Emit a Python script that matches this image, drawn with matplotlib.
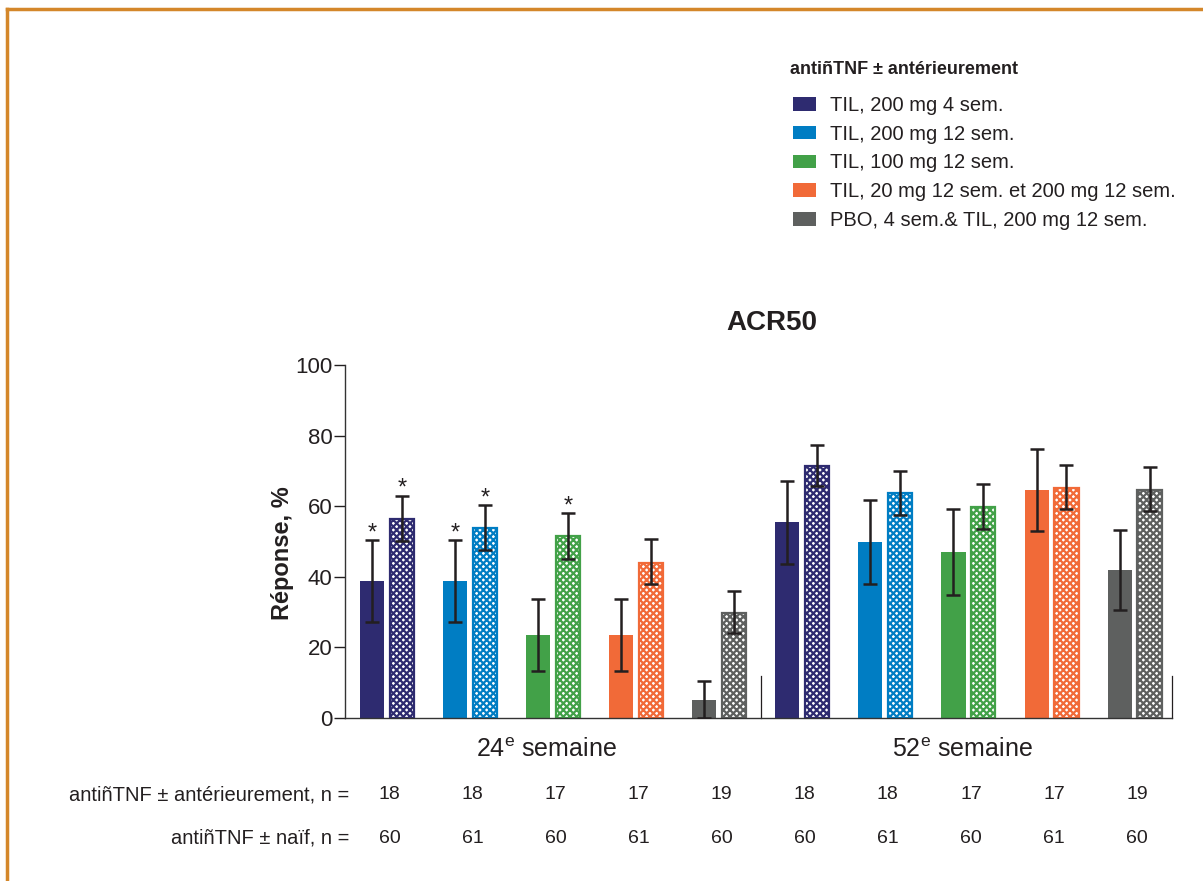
import numpy as np
import matplotlib
matplotlib.use('Agg')
import matplotlib.pyplot as plt
from matplotlib.patches import Patch
from matplotlib.lines import Line2D

plt.rcParams['font.family'] = ['Liberation Sans', 'DejaVu Sans']
plt.rcParams['mathtext.fontset'] = 'custom'
plt.rcParams['mathtext.rm'] = 'Liberation Sans'
plt.rcParams['hatch.linewidth'] = 1.6

groups = ['TIL, 200 mg 4 sem.', 'TIL, 200 mg 12 sem.', 'TIL, 100 mg 12 sem.',
          'TIL, 20 mg 12 sem. et 200 mg 12 sem.', 'PBO, 4 sem.& TIL, 200 mg 12 sem.']
colors = ['#2E2B70', '#007DC3', '#42A148', '#F16A38', '#5E605F']
weeks = ['24$^{\\mathrm{e}}$ semaine', '52$^{\\mathrm{e}}$ semaine']

# anti-TNF previously exposed (solid bars) - week 24 then week 52
prior_val = [38.9, 38.9, 23.5, 23.5, 5.0, 55.5, 50.0, 47.0, 64.7, 41.9]
prior_lo = [27.3, 27.3, 13.3, 13.3, 0.0, 43.7, 38.0, 34.8, 53.0, 30.7]
prior_hi = [50.4, 50.4, 33.7, 33.7, 10.4, 67.1, 61.7, 59.1, 76.1, 53.3]
prior_star = [True, True, False, False, False, False, False, False, False, False]

# anti-TNF naive (checkered bars)
naive_val = [56.5, 53.8, 51.5, 44.0, 29.8, 71.5, 63.6, 59.7, 65.2, 64.7]
naive_lo = [50.1, 47.6, 45.1, 37.9, 24.0, 65.7, 57.6, 53.5, 59.3, 58.6]
naive_hi = [62.9, 60.2, 58.0, 50.6, 35.9, 77.3, 69.9, 66.3, 71.6, 71.0]
naive_star = [True, True, True, False, False, False, False, False, False, False]

n_prior = [18, 18, 17, 17, 19, 18, 18, 17, 17, 19]
n_naive = [60, 61, 60, 61, 60, 60, 61, 60, 61, 60]

fig = plt.figure(figsize=(12.03, 8.81), dpi=100)
ax = fig.add_axes([0.2868, 0.185, 0.6874, 0.4007])

x = np.arange(len(prior_val))
cols = colors * 2
off = 0.18
w = 0.29
ink = '#231F20'

ax.bar(x - off, prior_val, width=w, color=cols, edgecolor='none', zorder=2)
ax.bar(x + off, naive_val, width=w, color='white', edgecolor=cols,
       hatch='xxxxx', linewidth=1.6, zorder=2)

err_p = [np.array(prior_val) - np.array(prior_lo), np.array(prior_hi) - np.array(prior_val)]
err_n = [np.array(naive_val) - np.array(naive_lo), np.array(naive_hi) - np.array(naive_val)]
ax.errorbar(x - off, prior_val, yerr=err_p, fmt='none', ecolor=ink,
            elinewidth=1.8, capsize=5, capthick=1.8, zorder=3)
ax.errorbar(x + off, naive_val, yerr=err_n, fmt='none', ecolor=ink,
            elinewidth=1.8, capsize=5, capthick=1.8, zorder=3)

for i in range(len(x)):
    if prior_star[i]:
        ax.text(x[i] - off, prior_hi[i] + 2.0, '*', ha='center', va='center',
                fontsize=17, color=ink)
    if naive_star[i]:
        ax.text(x[i] + off, naive_hi[i] + 2.0, '*', ha='center', va='center',
                fontsize=17, color=ink)

# separators between weeks
for xs in [4.5, 9.45]:
    ax.plot([xs, xs], [0, 12], color=ink, lw=0.9, zorder=1, clip_on=False)

ax.set_xlim(-0.505, 9.45)
ax.set_ylim(0, 100)
ax.set_yticks([0, 20, 40, 60, 80, 100])
ax.tick_params(axis='y', labelsize=16, length=8, width=1, colors=ink,
               direction='out', pad=1)
ax.set_xticks([])
for s in ['top', 'right']:
    ax.spines[s].set_visible(False)
for s in ['left', 'bottom']:
    ax.spines[s].set_color('#333333')
    ax.spines[s].set_linewidth(1)

ax.set_ylabel('Réponse, %', fontsize=17, fontweight='bold', color=ink)
ax.yaxis.set_label_coords(-0.062, 0.467)
ax.set_title('ACR50', fontsize=20, fontweight='bold', color=ink, pad=25, x=0.516)

tr = ax.get_xaxis_transform()
ax.text(1.92, -0.09, weeks[0], transform=tr, ha='center', va='center', fontsize=18, color=ink)
ax.text(6.93, -0.09, weeks[1], transform=tr, ha='center', va='center', fontsize=18, color=ink)

ax.text(-0.45, -0.218, 'antiñTNF ± antérieurement, n =', transform=tr, ha='right',
        va='center', fontsize=14.5, color=ink)
ax.text(-0.45, -0.340, 'antiñTNF ± naïf, n =', transform=tr, ha='right',
        va='center', fontsize=14.5, color=ink)
for i in range(len(x)):
    ax.text(x[i] + 0.03, -0.218, str(n_prior[i]), transform=tr, ha='center',
            va='center', fontsize=14, color=ink)
    ax.text(x[i] + 0.03, -0.340, str(n_naive[i]), transform=tr, ha='center',
            va='center', fontsize=14, color=ink)

fig.text(790 / 1203, 1 - 70 / 881, 'antiñTNF ± antérieurement', ha='left', va='center',
         fontsize=13, fontweight='bold', color=ink)
handles = [Patch(facecolor=c, edgecolor='none') for c in colors]
leg = fig.legend(handles, groups, loc='upper left', bbox_to_anchor=(0.6525, 0.9005),
                 frameon=False, fontsize=14.5, borderaxespad=0,
                 handlelength=1.12, handleheight=0.67,
                 labelspacing=0.49, handletextpad=0.74)
for t in leg.get_texts():
    t.set_color(ink)

# orange frame (top and left edges)
fc = '#D4872A'
fig.add_artist(Line2D([7 / 1203, 1], [1 - 9 / 881, 1 - 9 / 881], color=fc, lw=2.5,
                      transform=fig.transFigure))
fig.add_artist(Line2D([7 / 1203, 7 / 1203], [0, 1 - 9 / 881], color=fc, lw=2.5,
                      transform=fig.transFigure))

fig.savefig('out.png', dpi=100)
